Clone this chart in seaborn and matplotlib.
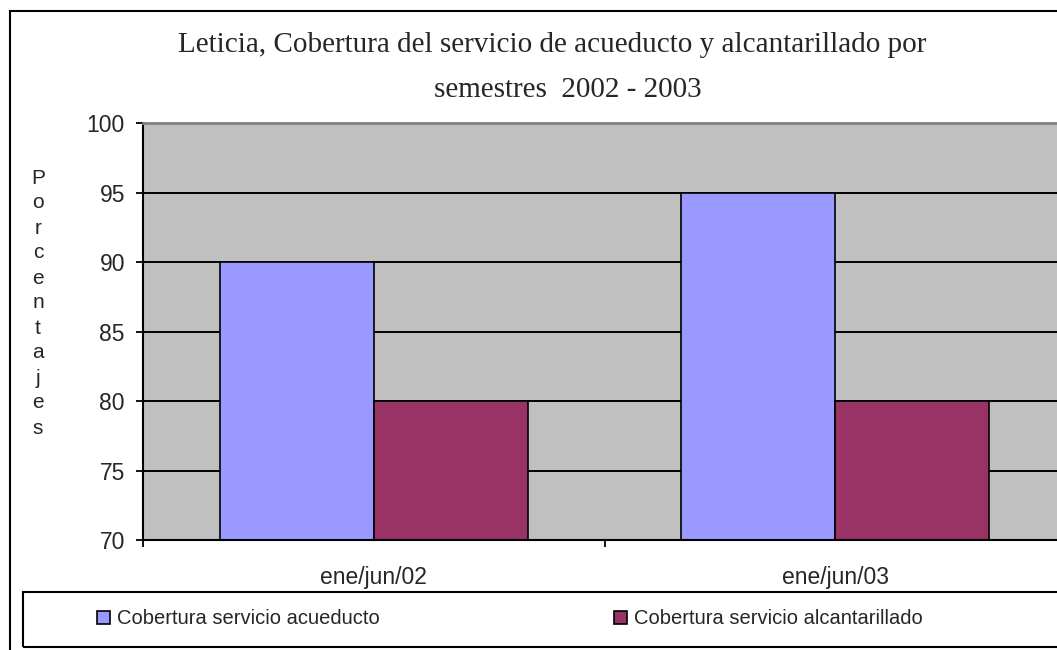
import matplotlib
matplotlib.use("Agg")
import matplotlib.pyplot as plt
import seaborn as sns
import pandas as pd
from matplotlib.patches import Rectangle

# datos del grafico
semestres = ["ene/jun/02", "ene/jun/03"]
acueducto = [90, 95]
alcantarillado = [80, 80]
series = ["Cobertura servicio acueducto", "Cobertura servicio alcantarillado"]
colores = ["#9999FF", "#993366"]
y_ticks = [70, 75, 80, 85, 90, 95, 100]

df = pd.DataFrame({
    "semestre": semestres * 2,
    "serie": [series[0]] * len(semestres) + [series[1]] * len(semestres),
    "valor": acueducto + alcantarillado,
})

sns.set_theme(style="white")
plt.rcParams["font.family"] = ["Liberation Sans", "DejaVu Sans"]

W, H = 1057, 650
fig = plt.figure(figsize=(W / 100, H / 100), dpi=100)
fig.patch.set_facecolor("white")

# marco exterior y caja de la leyenda (en pixeles de la figura)
fig.patches.append(Rectangle((10 / W, -0.1), 1.2, 1 - 11 / H + 0.1, transform=fig.transFigure,
                             fill=False, edgecolor="black", linewidth=1.5, zorder=0))
fig.patches.append(Rectangle((23 / W, 1 - 647 / H), 1.2, (647 - 592) / H, transform=fig.transFigure,
                             fill=False, edgecolor="black", linewidth=1.5, zorder=0))

ax = fig.add_axes([143 / W, 1 - 540 / H, (1066 - 143) / W, (540 - 123) / H])
ax.set_facecolor("#C0C0C0")

sns.barplot(data=df, x="semestre", y="valor", hue="serie", palette=colores,
            width=0.667, edgecolor="black", linewidth=1.2, saturation=1,
            ax=ax, legend=False, zorder=2)

# lineas de division
for v in y_ticks[1:-1]:
    ax.axhline(v, color="black", linewidth=1.4, zorder=1)

ax.set_xlim(-0.5, len(semestres) - 0.5)
ax.set_ylim(70, 100)
ax.set_yticks(y_ticks)
ax.tick_params(axis="y", direction="out", length=5, width=1.3, color="black",
               labelsize=16.5, pad=8, left=True)

ax.set_xticks([i - 0.5 for i in range(len(semestres) + 1)])
ax.set_xticklabels([])
ax.set_xticks(range(len(semestres)), minor=True)
ax.set_xticklabels(semestres, minor=True)
ax.tick_params(axis="x", which="major", direction="out", length=5, width=1.3,
               color="black", bottom=True)
ax.tick_params(axis="x", which="minor", length=0, labelsize=16.5, pad=19)
ax.set_xlabel("")
ax.set_ylabel("")

for s in ["left", "bottom"]:
    ax.spines[s].set_color("black")
    ax.spines[s].set_linewidth(1.5)
for s in ["top", "right"]:
    ax.spines[s].set_color("#808080")
    ax.spines[s].set_linewidth(2)

# titulo
fig.text(552 / W, 1 - 52 / H, "Leticia, Cobertura del servicio de acueducto y alcantarillado por",
         ha="center", va="baseline", fontsize=21, family="Liberation Serif")
fig.text(568 / W, 1 - 97 / H, "semestres  2002 - 2003",
         ha="center", va="baseline", fontsize=21, family="Liberation Serif")

# etiqueta del eje y, letra por letra
fig.text(38 / W, 1 - 303 / H, "\n".join("Porcentajes"), ha="center", va="center",
         fontsize=15, linespacing=1.4)

# leyenda
handles = [Rectangle((0, 0), 1, 1, facecolor=c, edgecolor="black", linewidth=1.2) for c in colores]
fig.legend(handles, series, loc="center left", bbox_to_anchor=(97 / W, 1 - 619 / H),
           ncol=2, frameon=False, fontsize=14.5, handlelength=0.65, handleheight=0.65,
           handletextpad=0.35, columnspacing=11.6, borderpad=0, borderaxespad=0)

fig.savefig("out.png", dpi=100)
